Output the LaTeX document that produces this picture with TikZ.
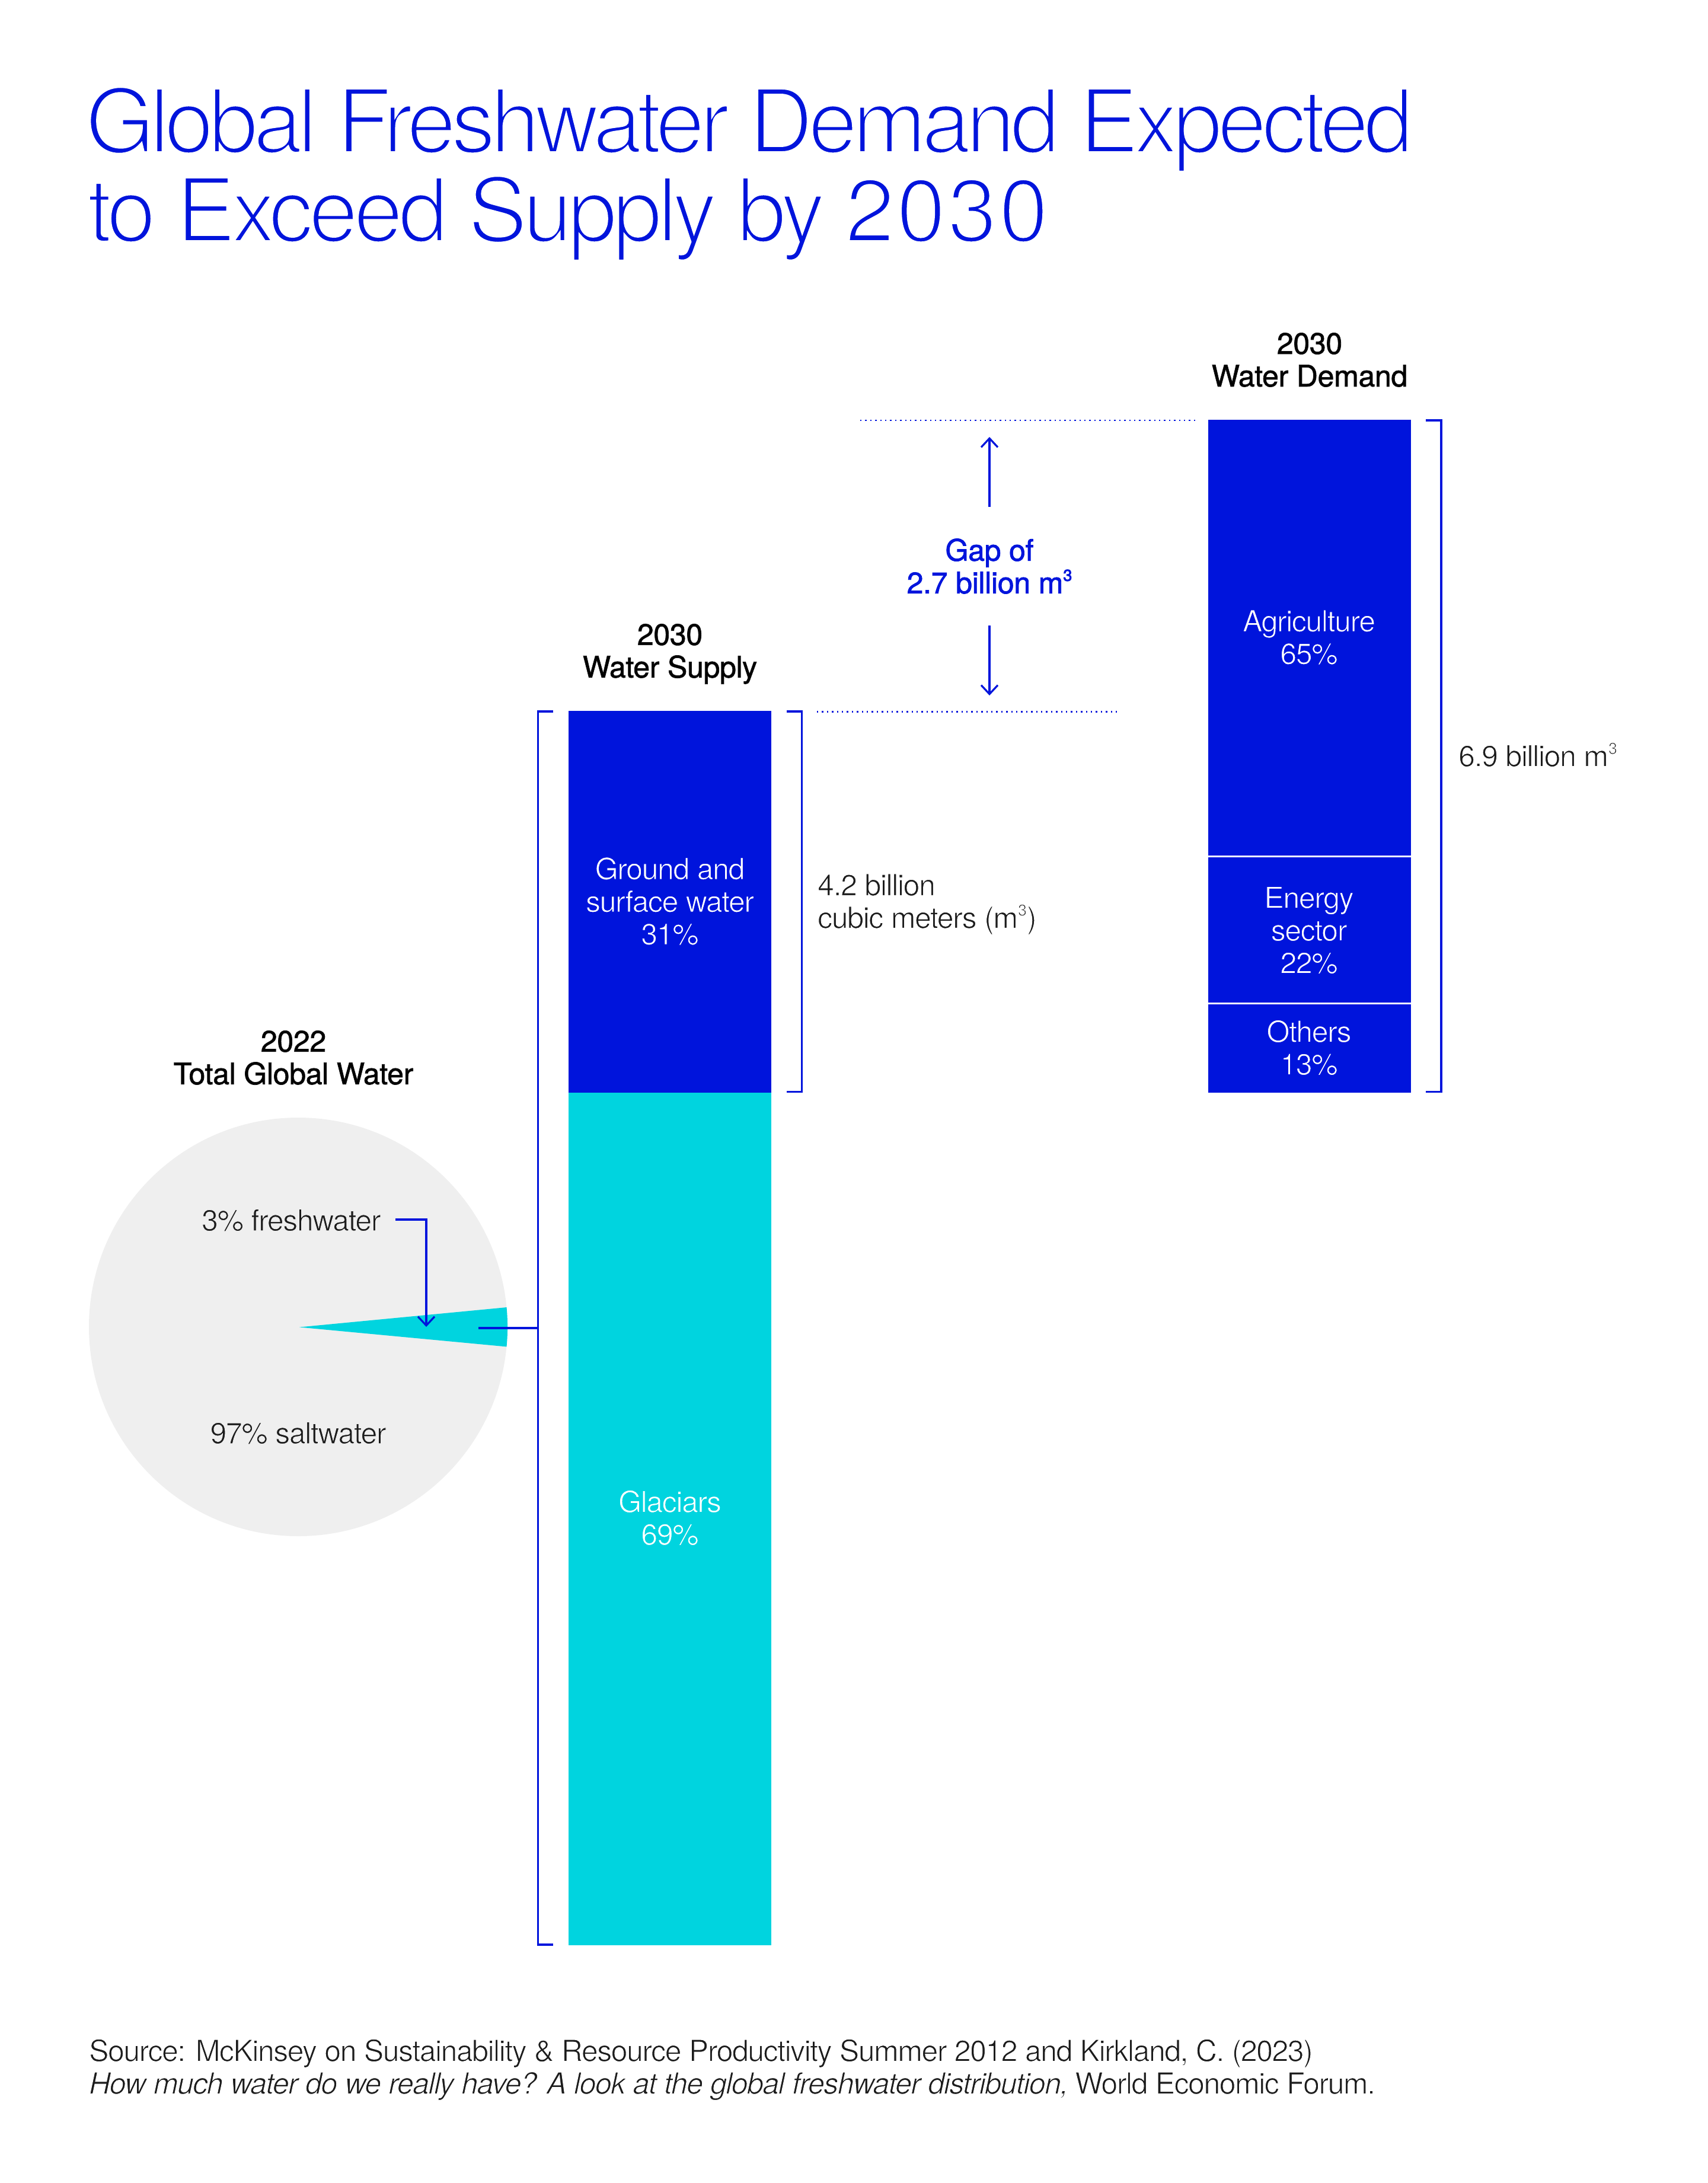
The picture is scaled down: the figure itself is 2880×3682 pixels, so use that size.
\documentclass[tikz,border=0pt]{standalone}
\usepackage{fontspec}
\setmainfont[LetterSpace=-2.8]{TeX Gyre Heros}
\newfontfamily\titlefont[LetterSpace=-5.7]{TeX Gyre Heros}
\newfontfamily\titletwofont[LetterSpace=-5.1]{TeX Gyre Heros}
\newfontfamily\titledigits[LetterSpace=2.0]{TeX Gyre Heros}
\newfontfamily\headfont[LetterSpace=-0.6]{TeX Gyre Heros}
\newfontfamily\sourcefont[LetterSpace=-3.0]{TeX Gyre Heros}
\usetikzlibrary{arrows.meta}
\definecolor{blu}{HTML}{0014DC}
\definecolor{cya}{HTML}{00D4DF}
\definecolor{gry}{HTML}{EFEFEF}
\definecolor{ink}{HTML}{1C1C1C}
% thins glyphs by stroking them in the colour of what lies behind; a stroke in their own colour makes them heavier
\newcommand{\thinned}[3]{{\special{pdf:code 2 Tr #2 w #1 RG}#3\special{pdf:code 0 Tr 0 w}}}
\newcommand{\onwhite}[1]{\thinned{1 1 1}{1.0}{#1}}
\newcommand{\ongrey}[1]{\thinned{0.937 0.937 0.937}{1.0}{#1}}
\newcommand{\onblue}[1]{\thinned{0 0.078 0.863}{1.0}{#1}}
\newcommand{\oncyan}[1]{\thinned{0 0.83 0.875}{1.0}{#1}}
\newcommand{\heavy}[1]{\thinned{0.08 0.08 0.08}{0.8}{#1}}
\newcommand{\heavyblue}[1]{\thinned{0 0.078 0.863}{0.8}{#1}}
\newcommand{\cub}{\raisebox{0.42em}{\fontsize{27}{27}\selectfont 3}}
\tikzset{
 x=1pt,y=-1pt,
 lbl/.style={inner sep=0pt,align=center,font=\fontsize{50}{55}\selectfont,text=ink},
 hd/.style={lbl,text=black,font=\headfont\fontsize{50}{55}\selectfont},
 wlbl/.style={lbl,text=white},
 ttl/.style={inner sep=0,anchor=west,text=blu,font=\titlefont\fontsize{150}{150}\selectfont},
 barbox/.style={inner sep=0,minimum width=342pt,anchor=north west},
 rule/.style={draw=blu,line width=3.2pt},
 dots/.style={draw=blu,line width=2.4pt,dash pattern=on 2.4pt off 6pt},
 tip/.style={-{Straight Barb[length=15pt,width=28pt,line width=3.2pt]}},
}
\begin{document}
\begin{tikzpicture}
\useasboundingbox (0,0) rectangle (2880,3682);
% pie
\fill[gry] (503,2238) circle[radius=353];
\fill[cya] (505,2238.5) -- (854.5,2205) arc[start angle=-5.4,end angle=5.4,radius=353] -- cycle;
% bars
\node[barbox,fill=blu,minimum height=644pt] (sup) at (959,1199) {};
\node[barbox,fill=cya,minimum height=1438pt] (gla) at (959,1843) {};
\node[barbox,fill=blu,minimum height=734.7pt] (agr) at (2038,708) {};
\node[barbox,fill=blu,minimum height=244.6pt] (ene) at (2038,1445.7) {};
\node[barbox,fill=blu,minimum height=149.7pt] (oth) at (2038,1693.3) {};
% title
\node[ttl] (t1) at (144,218) {\thinned{1 1 1}{5.2}{Global Freshwater Demand Expected}};
\node[ttl] (t2) at (147,368) {\thinned{1 1 1}{5.2}{\titletwofont to Exceed Supply by {\titledigits 2030}}};
% headings
\node[hd] (h1) at (495,1784) {\heavy{2022}\\\heavy{Total Global Water}};
\node[hd] (h2) at (1130,1103) {\heavy{2030}\\\heavy{Water Supply}};
\node[hd] (h3) at (2209,607) {\heavy{2030}\\\heavy{Water Demand}};
% labels
\node[lbl,anchor=west] (l1) at (340,2058) {\ongrey{3\% freshwater}};
\node[lbl] (l2) at (503,2417) {\ongrey{97\% saltwater}};
\node[wlbl] (l5) at (1130,1520) {\onblue{Ground and}\\\onblue{surface water}\\\onblue{31\%}};
\node[wlbl] (l6) at (1130,2560) {\oncyan{Glaciars}\\\oncyan{69\%}};
\node[wlbl] (l7) at (2208,1075) {\onblue{Agriculture}\\\onblue{65\%}};
\node[wlbl] (l8) at (2208,1569) {\onblue{Energy}\\\onblue{sector}\\\onblue{22\%}};
\node[wlbl] (l9) at (2208,1767) {\onblue{Others}\\\onblue{13\%}};
\node[lbl,align=left,anchor=west] (l3) at (1379,1525) {\onwhite{4.2 billion}\\\onwhite{cubic meters (m\cub)}};
\node[lbl,anchor=west] (l4) at (2460,1273) {\onwhite{6.9 billion m\cub}};
\node[lbl,text=blu,font=\headfont\fontsize{50}{55}\selectfont] (gap) at (1669,955) {\heavyblue{Gap of}\\\heavyblue{2.7 billion m\cub}};
% source
\node[lbl,align=left,anchor=north west,font=\sourcefont\fontsize{50}{55}\selectfont] (src) at (150,3439) {\onwhite{Source: McKinsey on Sustainability \& Resource Productivity Summer 2012 and Kirkland, C. (2023)}\\\onwhite{\textit{How much water do we really have? A look at the global freshwater distribution,} World Economic Forum.}};
% connectors
\coordinate (c1) at (907.5,2240);
\draw[rule] (933,1200) -- (907.5,1200) -- (907.5,3280) -- (933,3280);
\draw[rule] (1327,1200) -- (1352.5,1200) -- (1352.5,1841.5) -- (1327,1841.5);
\draw[rule] (2405,709) -- (2431,709) -- (2431,1841.5) -- (2405,1841.5);
\draw[rule] (807,2240) -- (c1);
\draw[rule,tip] (667,2057) -- (719,2057) -- (719,2238);
\draw[rule,tip] (1669,855) -- (1669,737);
\draw[rule,tip] (1669,1055) -- (1669,1173);
\draw[dots] (1451,709) -- (2016,709);
\draw[dots] (1378,1200.5) -- (1888,1200.5);
\end{tikzpicture}
\end{document}
